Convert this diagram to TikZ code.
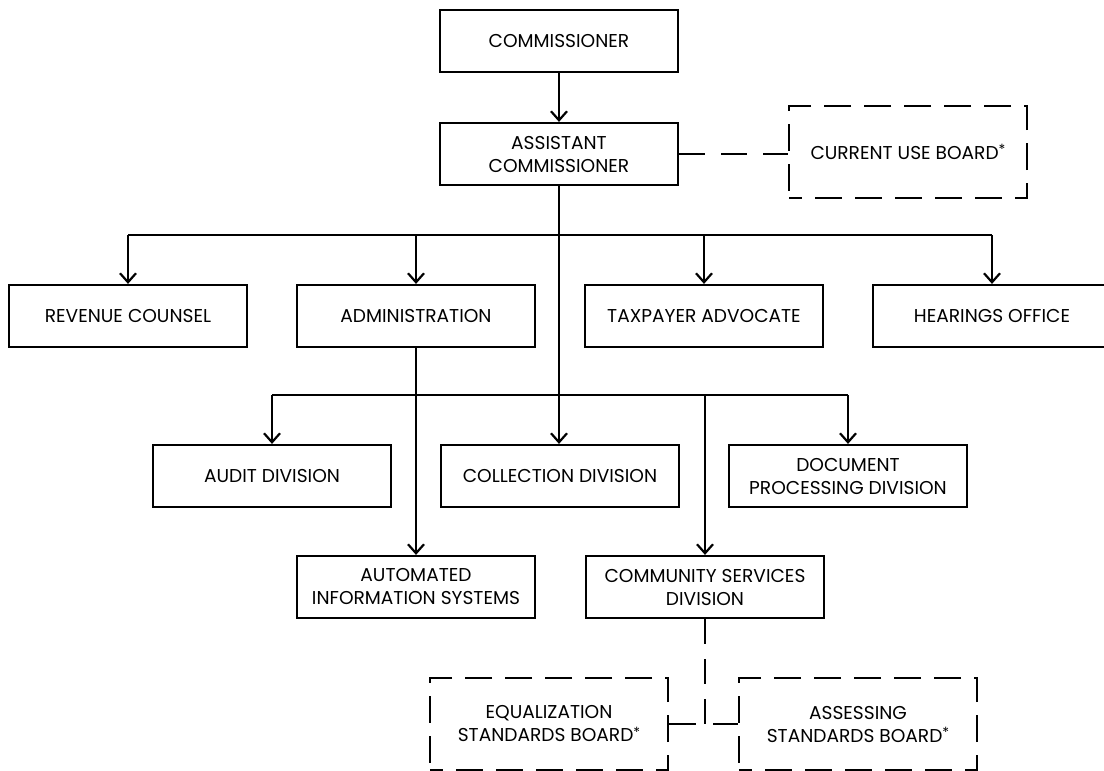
\documentclass[tikz,border=0pt]{standalone}
\usepackage{fontspec}
\setmainfont{Poppins}
\usetikzlibrary{arrows.meta}
\newcommand{\boardmark}{\raisebox{2.3pt}{\fontsize{7}{8}\selectfont*}}

\begin{document}
\begin{tikzpicture}[x=0.5pt,y=-0.5pt,
    box/.style={draw,line width=1.1pt,minimum width=119pt,minimum height=31pt,
      inner sep=0pt,align=center,font=\fontsize{9.3}{11.5}\selectfont},
    board/.style={box,dash pattern=on 13.5pt off 6.5pt,dash phase=7pt,minimum height=46pt},
    arrowline/.style={line width=1.1pt,-{Straight Barb[length=4.5pt,width=8pt]}},
    tie/.style={line width=1.1pt,dash pattern=on 13pt off 8pt}]
    \useasboundingbox (0,0) rectangle (1104,771);

    \node[box](comm) at (559,41) {COMMISSIONER};
    \node[box](asst) at (559,154) {ASSISTANT\\COMMISSIONER};
    \node[board](cub) at (908,152) {CURRENT USE BOARD\boardmark};

    \node[box](rev) at (128,316) {REVENUE COUNSEL};
    \node[box](adm) at (416,316) {ADMINISTRATION};
    \node[box](tax) at (704,316) {TAXPAYER ADVOCATE};
    \node[box](hear) at (992,316) {HEARINGS OFFICE};

    \node[box](aud) at (272,476) {AUDIT DIVISION};
    \node[box](coll) at (560,476) {COLLECTION DIVISION};
    \node[box](doc) at (848,476) {DOCUMENT\\PROCESSING DIVISION};

    \node[box](ais) at (416,587) {AUTOMATED\\INFORMATION SYSTEMS};
    \node[box](csd) at (705,587) {COMMUNITY SERVICES\\DIVISION};

    \node[board](esb) at (549,724) {EQUALIZATION\\STANDARDS BOARD\boardmark};
    \node[board](asb) at (858,724) {ASSESSING\\STANDARDS BOARD\boardmark};

    \coordinate (bar1) at (559,235);
    \coordinate (bar2) at (559,395);
    \coordinate (jn) at (csd.south |- esb.east);

    \draw[arrowline] (comm) -- (asst);
    \draw[arrowline] (asst.south) -- (coll.north -| asst.south);
    \draw[line width=1.1pt] (rev.north |- bar1) -- (hear.north |- bar1);
    \foreach \n in {rev,adm,tax,hear}
      \draw[arrowline] (\n.north |- bar1) -- (\n.north);
    \draw[line width=1.1pt] (aud.north |- bar2) -- (doc.north |- bar2);
    \foreach \n in {aud,doc,csd}
      \draw[arrowline] (\n.north |- bar2) -- (\n.north);
    \draw[arrowline] (adm.south) -- (ais.north);

    \draw[tie] (asst.east) -- (asst.east -| cub.west);
    \draw[tie,dash pattern=on 12.5pt off 7.5pt] (csd.south) -- (jn);
    \draw[tie,dash pattern=on 13.5pt off 8.5pt] (esb.east) -- (asb.west);
\end{tikzpicture}
\end{document}
